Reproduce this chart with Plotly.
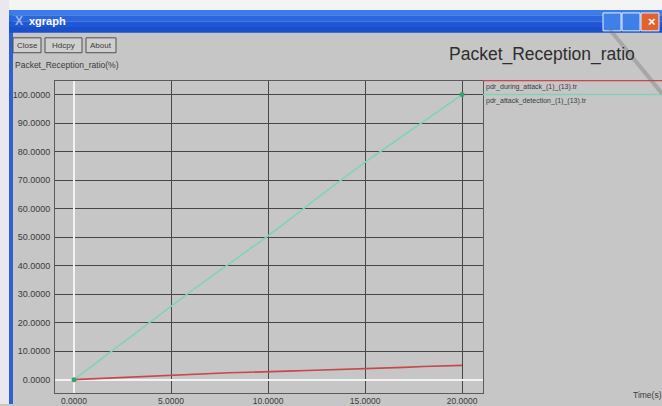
import plotly.graph_objects as go

# Simulation time (s) sampled every second
time_s = [0, 1, 2, 3, 4, 5, 6, 7, 8, 9, 10, 11, 12, 13, 14, 15, 16, 17, 18, 19, 20]

# Packet reception ratio (%) for the two trace files
pdr_during_attack = [0.0, 0.3, 0.6, 0.9, 1.3, 1.7, 1.9, 2.1, 2.4, 2.6, 2.9,
                     3.0, 3.2, 3.4, 3.5, 3.7, 4.0, 4.3, 4.6, 4.8, 5.0]
pdr_attack_detection = [0.0, 5.2, 10.3, 15.5, 20.8, 26.0, 30.9, 35.8, 40.6, 45.5, 50.4,
                        55.6, 61.0, 66.1, 71.2, 76.3, 81.0, 85.7, 90.4, 95.2, 100.0]

series_names = ["pdr_during_attack_(1)_(13).tr", "pdr_attack_detection_(1)_(13).tr"]
series_colors = ["#c8464e", "#7fd4b4"]

x_ticks = [0, 5, 10, 15, 20]
y_ticks = [0, 10, 20, 30, 40, 50, 60, 70, 80, 90, 100]

W, H = 662, 406
BG = "#c6c6c6"
TXT = "#3a3a3a"
FONT = "Liberation Sans, Arial, sans-serif"


def px(x):
    return x / W


def py(y):
    return 1 - y / H


fig = go.Figure()
for vals, name, col in zip([pdr_during_attack, pdr_attack_detection], series_names, series_colors):
    fig.add_trace(go.Scatter(
        x=time_s, y=vals, mode="lines", name=name,
        line=dict(color=col, width=1.6), showlegend=False,
    ))
# end-point markers on the detection curve
fig.add_trace(go.Scatter(
    x=[time_s[0], time_s[-1]], y=[pdr_attack_detection[0], pdr_attack_detection[-1]],
    mode="markers", marker=dict(color="#3aa070", size=5), showlegend=False,
))

shapes = []
annotations = []

# window frame: white margin, blue title bar, left border
shapes.append(dict(type="rect", xref="paper", yref="paper", x0=0, x1=1, y0=py(10), y1=1,
                   fillcolor="#f4f4f4", line_width=0, layer="below"))
shapes.append(dict(type="rect", xref="paper", yref="paper", x0=0, x1=px(9), y0=0, y1=1,
                   fillcolor="#e8e8ee", line_width=0, layer="below"))
shapes.append(dict(type="rect", xref="paper", yref="paper", x0=px(9), x1=px(13), y0=0, y1=py(10),
                   fillcolor="#2f5fd0", line_width=0, layer="below"))
for i, c in enumerate(["#3b7bea", "#2a66e0", "#1f58d6", "#1a4fcc"]):
    shapes.append(dict(type="rect", xref="paper", yref="paper", x0=px(9), x1=1,
                       y0=py(10 + (i + 1) * 5.75), y1=py(10 + i * 5.75),
                       fillcolor=c, line_width=0, layer="below"))
# title bar buttons
for x0, col in [(603, "#3f7fe8"), (622, "#3f7fe8"), (641, "#e2622f")]:
    shapes.append(dict(type="rect", xref="paper", yref="paper", x0=px(x0), x1=px(x0 + 18),
                       y0=py(31), y1=py(13), fillcolor=col,
                       line=dict(color="#e8f0ff", width=1), layer="below"))
annotations.append(dict(x=px(27), y=py(21), xref="paper", yref="paper", text="<b>xgraph</b>",
                        showarrow=False, xanchor="left", yanchor="middle",
                        font=dict(family=FONT, size=11, color="white")))
annotations.append(dict(x=px(13), y=py(21), xref="paper", yref="paper", text="<b>X</b>",
                        showarrow=False, xanchor="left", yanchor="middle",
                        font=dict(family=FONT, size=12, color="#9ab4e0")))
annotations.append(dict(x=px(646), y=py(22), xref="paper", yref="paper", text="<b>×</b>",
                        showarrow=False, xanchor="left", yanchor="middle",
                        font=dict(family=FONT, size=13, color="white")))

# xgraph control buttons
for label, x0, x1 in [("Close", 13, 41), ("Hdcpy", 45, 82), ("About", 86, 116)]:
    shapes.append(dict(type="rect", xref="paper", yref="paper", x0=px(x0), x1=px(x1),
                       y0=py(53), y1=py(38), fillcolor="#cfcfcf",
                       line=dict(color="#505050", width=1)))
    annotations.append(dict(x=px((x0 + x1) / 2), y=py(45.5), xref="paper", yref="paper",
                            text=label, showarrow=False, xanchor="center", yanchor="middle",
                            font=dict(family=FONT, size=8, color=TXT)))

# y-axis caption and chart title
annotations.append(dict(x=px(13), y=py(65), xref="paper", yref="paper",
                        text="Packet_Reception_ratio(%)", showarrow=False,
                        xanchor="left", yanchor="middle",
                        font=dict(family=FONT, size=8.5, color=TXT)))
annotations.append(dict(x=px(637), y=py(55), xref="paper", yref="paper",
                        text="Packet_Reception_ratio", showarrow=False,
                        xanchor="right", yanchor="middle",
                        font=dict(family=FONT, size=17.5, color="#2e2e2e")))
annotations.append(dict(x=px(631), y=py(397), xref="paper", yref="paper",
                        text="Time(s)", showarrow=False, xanchor="left", yanchor="middle",
                        font=dict(family=FONT, size=8.5, color=TXT)))

# xgraph-style legend: a coloured rule above each file name
for i, (name, col) in enumerate(zip(series_names, series_colors)):
    yl = 81 + i * 14
    shapes.append(dict(type="line", xref="paper", yref="paper", x0=px(483), x1=1,
                       y0=py(yl), y1=py(yl), line=dict(color=col, width=1.4)))
    annotations.append(dict(x=px(484), y=py(yl + 6.5), xref="paper", yref="paper",
                            text=name, showarrow=False, xanchor="left", yanchor="middle",
                            font=dict(family=FONT, size=7, color=TXT)))

# faint diagonal stroke across the top-right corner
shapes.append(dict(type="line", xref="paper", yref="paper", x0=px(610), y0=py(30),
                   x1=px(662), y1=py(94), line=dict(color="rgba(110,110,110,0.35)", width=4)))

fig.update_layout(
    width=W, height=H,
    margin=dict(l=0, r=0, t=0, b=0),
    paper_bgcolor=BG, plot_bgcolor=BG,
    shapes=shapes, annotations=annotations,
    xaxis=dict(
        domain=[px(55), px(483)], range=[-0.98, 21.08],
        tickvals=x_ticks, ticktext=[f"{v:.4f}" for v in x_ticks],
        showgrid=True, gridcolor="#464646", gridwidth=1,
        zeroline=True, zerolinecolor="#f2f2f2", zerolinewidth=2,
        showline=True, linecolor="#5a5a5a", linewidth=1, mirror=True,
        ticks="", tickfont=dict(family=FONT, size=8.5, color=TXT), ticklabelstandoff=0,
        fixedrange=True,
    ),
    yaxis=dict(
        domain=[py(395), py(81)], range=[-4.7, 104.9],
        tickvals=y_ticks, ticktext=[f"{v:.4f}" for v in y_ticks],
        showgrid=True, gridcolor="#464646", gridwidth=1,
        zeroline=True, zerolinecolor="#f2f2f2", zerolinewidth=2,
        showline=True, linecolor="#5a5a5a", linewidth=1, mirror=True,
        ticks="", tickfont=dict(family=FONT, size=9, color=TXT), ticklabelstandoff=2,
        fixedrange=True,
    ),
)

fig.write_html("out.html", config={"displayModeBar": False})
